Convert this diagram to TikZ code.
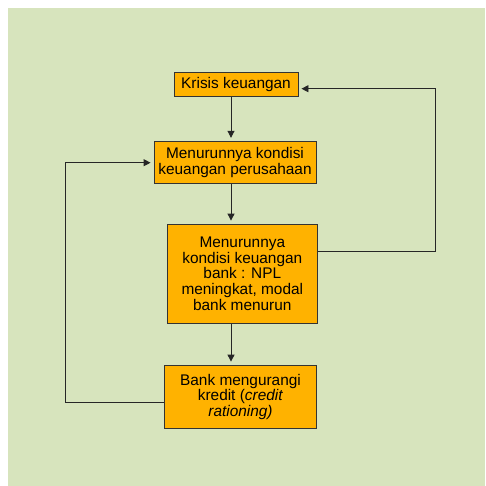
\documentclass[tikz,border=0pt]{standalone}
\usepackage{fontspec}
\setmainfont{Liberation Sans}
\usetikzlibrary{arrows.meta}
\definecolor{bggreen}{RGB}{215,228,189}
\definecolor{boxorange}{RGB}{255,178,0}

\begin{document}
\begin{tikzpicture}[x=1pt,y=-1pt,
    flowbox/.style={draw=black!80, fill=boxorange, line width=0.9pt, align=center, inner sep=0pt, font=\fontsize{15.4}{15.6}\selectfont},
    flowline/.style={draw=black!85, line width=0.9pt, -{Triangle[length=7pt,width=7pt]}, shorten >=3pt},]
    % background
    \useasboundingbox (0,0) rectangle (485,486);
    \fill[bggreen] (8,8) rectangle (485,486);
    % nodes
    \node[flowbox, minimum width=124pt, minimum height=24.5pt]   (krisis)     at (236,84.5)    {Krisis keuangan};
    \node[flowbox, minimum width=162pt, minimum height=42.5pt]   (perusahaan) at (235,162.5)   {Menurunnya kondisi\\keuangan perusahaan};
    \node[flowbox, minimum width=150.7pt, minimum height=99.3pt] (bank)       at (242.3,273.7) {Menurunnya\\kondisi keuangan\\bank : NPL\\meningkat, modal\\bank menurun};
    \node[flowbox, minimum width=152.4pt, minimum height=63.3pt] (kredit)     at (240.5,396.7) {Bank mengurangi\\kredit (\textit{credit}\\\textit{rationing)}};
    % helper coordinates
    \coordinate (spine) at (231,0);
    \coordinate (rloop) at (435.3,251);
    \coordinate (rtop)  at (435.3,88.7);
    \coordinate (lloop) at (65.3,402.7);
    \coordinate (ltop)  at (65.3,162.7);
    % lines
    \draw[flowline] (krisis.south -| spine) -- (perusahaan.north -| spine);
    \draw[flowline] (perusahaan.south -| spine) -- (bank.north -| spine);
    \draw[flowline] (bank.south -| spine) -- (kredit.north -| spine);
    \draw[flowline] (bank.east |- rloop) -- (rloop) -- (rtop) -- (krisis.east |- rtop);
    \draw[flowline] (kredit.west |- lloop) -- (lloop) -- (ltop) -- (perusahaan.west |- ltop);
\end{tikzpicture}
\end{document}
